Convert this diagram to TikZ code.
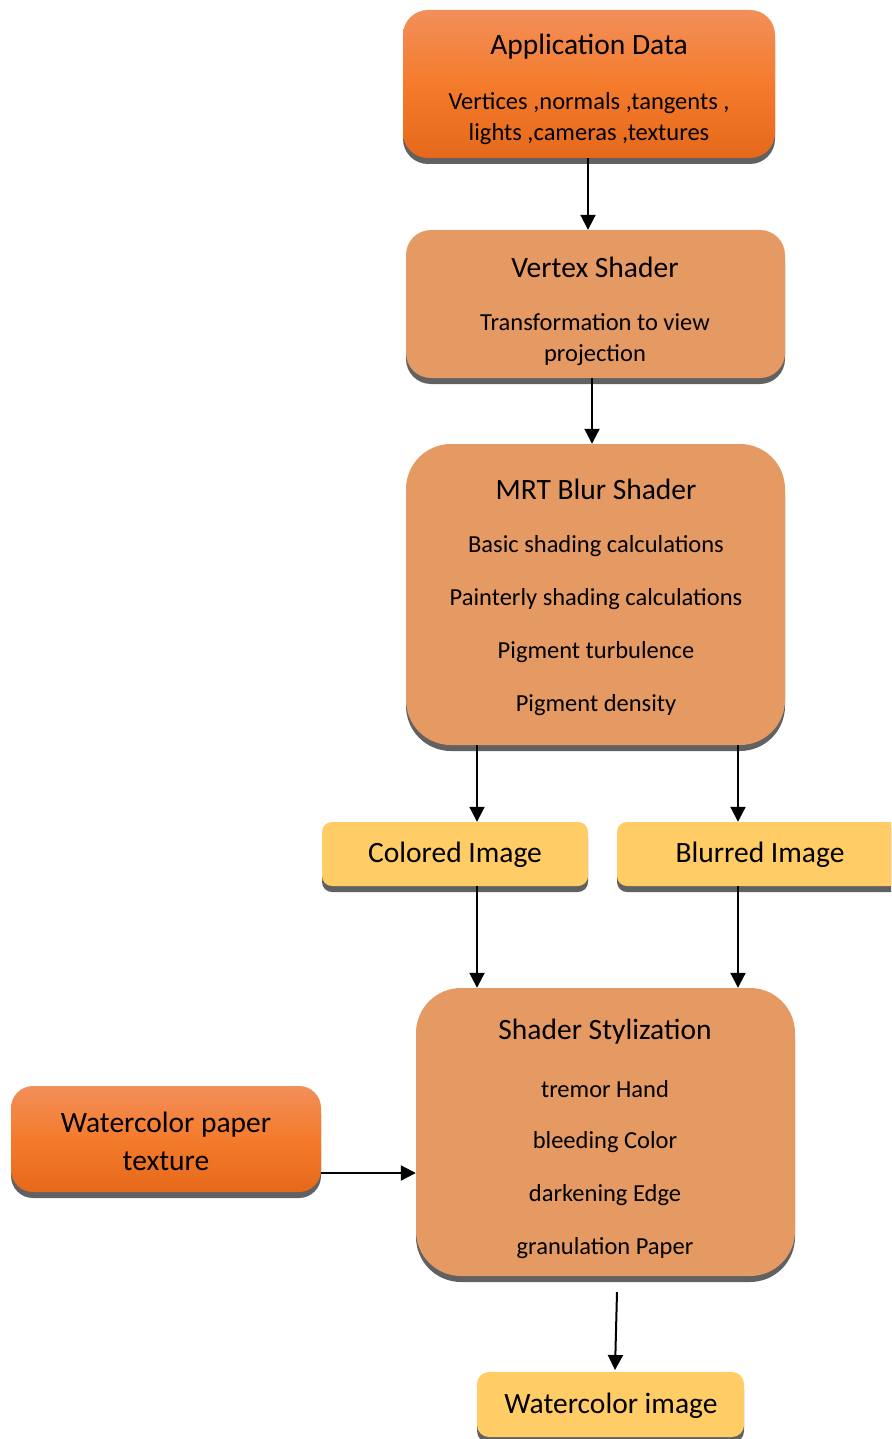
\documentclass[tikz,border=0pt]{standalone}
\usepackage{fontspec}
\setmainfont{Carlito}
\usetikzlibrary{shadows,arrows.meta}
\definecolor{orgtop}{HTML}{F28F5A}
\definecolor{orgmid}{HTML}{F47B2C}
\definecolor{orgbot}{HTML}{E6691B}
\definecolor{tan}{HTML}{E59A63}
\definecolor{yel}{HTML}{FFCC66}
\definecolor{shd}{HTML}{616161}
\tikzset{
  boxbase/.style={draw=none, inner sep=0pt,
    drop shadow={shadow xshift=0pt, shadow yshift=-6pt, fill=shd, opacity=1}},
  obox/.style={boxbase, top color=orgtop, bottom color=orgbot, middle color=orgmid},
  tbox/.style={boxbase, fill=tan},
  ybox/.style={boxbase, fill=yel},
  ttl/.style={font=\fontsize{29.5}{38}\selectfont, align=center, inner sep=0pt},
  bdy/.style={font=\fontsize{24.5}{31}\selectfont, align=center, inner sep=0pt},
  arr/.style={line width=2pt, -{Triangle[length=15pt,width=15pt]}},
}
\begin{document}
\begin{tikzpicture}[x=1pt,y=-1pt]
\useasboundingbox (0,0) rectangle (891,1439);
\clip (0,0) rectangle (891,1439);
% boxes
\node[obox, minimum width=372pt, minimum height=148pt, rounded corners=25pt] (app) at (589,84) {};
\node[tbox, minimum width=379pt, minimum height=148pt, rounded corners=25pt] (vs) at (595.5,304) {};
\node[tbox, minimum width=379pt, minimum height=301pt, rounded corners=45pt] (mrt) at (595.5,594.5) {};
\node[ybox, minimum width=266pt, minimum height=64pt, rounded corners=10pt] (col) at (455,854) {};
\node[ybox, minimum width=288pt, minimum height=64pt, rounded corners=10pt] (blr) at (761,854) {};
\node[tbox, minimum width=379pt, minimum height=288pt, rounded corners=45pt] (sty) at (605.5,1132) {};
\node[obox, minimum width=310pt, minimum height=106pt, rounded corners=22pt] (pap) at (166,1139) {};
\node[ybox, minimum width=267pt, minimum height=65pt, rounded corners=12pt] (wim) at (610.5,1404.5) {};
% texts
\node[ttl] (appT) at (589,47) {Application Data};
\node[bdy] (appB) at (589,119) {Vertices ,normals ,tangents ,\\ lights ,cameras ,textures};
\node[ttl] (vsT) at (595,267) {Vertex Shader};
\node[bdy] (vsB) at (595,340) {Transformation to view\\ projection};
\node[ttl] (mrtT) at (596,489) {MRT Blur Shader};
\node[bdy] (mrt1) at (596,546) {Basic shading calculations};
\node[bdy] (mrt2) at (596,599) {Painterly shading calculations};
\node[bdy] (mrt3) at (596,652) {Pigment turbulence};
\node[bdy] (mrt4) at (596,705) {Pigment density};
\node[ttl] (colT) at (455,855) {Colored Image};
\node[ttl] (blrT) at (760,855) {Blurred Image};
\node[ttl] (styT) at (605,1032) {Shader Stylization};
\node[bdy] (sty1) at (605,1089) {tremor Hand};
\node[bdy] (sty2) at (605,1142) {bleeding Color};
\node[bdy] (sty3) at (605,1195) {darkening Edge};
\node[bdy] (sty4) at (605,1248) {granulation Paper};
\node[ttl] (papT) at (166,1141) {Watercolor paper\\ texture};
\node[ttl] (wimT) at (611,1406) {Watercolor image};
% arrow x positions
\coordinate (xa) at (588,0);
\coordinate (xb) at (592,0);
\coordinate (xl) at (477,0);
\coordinate (xr) at (738,0);
\coordinate (s1) at (617,1292);
\coordinate (e1) at (615,1370);
% connectors
\draw[arr] (app.south -| xa) -- (vs.north -| xa);
\draw[arr] (vs.south -| xb) -- (mrt.north -| xb);
\draw[arr] (mrt.south -| xl) -- (col.north -| xl);
\draw[arr] (mrt.south -| xr) -- (blr.north -| xr);
\draw[arr] (col.south -| xl) -- (sty.north -| xl);
\draw[arr] (blr.south -| xr) -- (sty.north -| xr);
\draw[arr] (pap.east |- 0,1173) -- (sty.west |- 0,1173);
\draw[arr] (s1) -- (e1);
\end{tikzpicture}
\end{document}
